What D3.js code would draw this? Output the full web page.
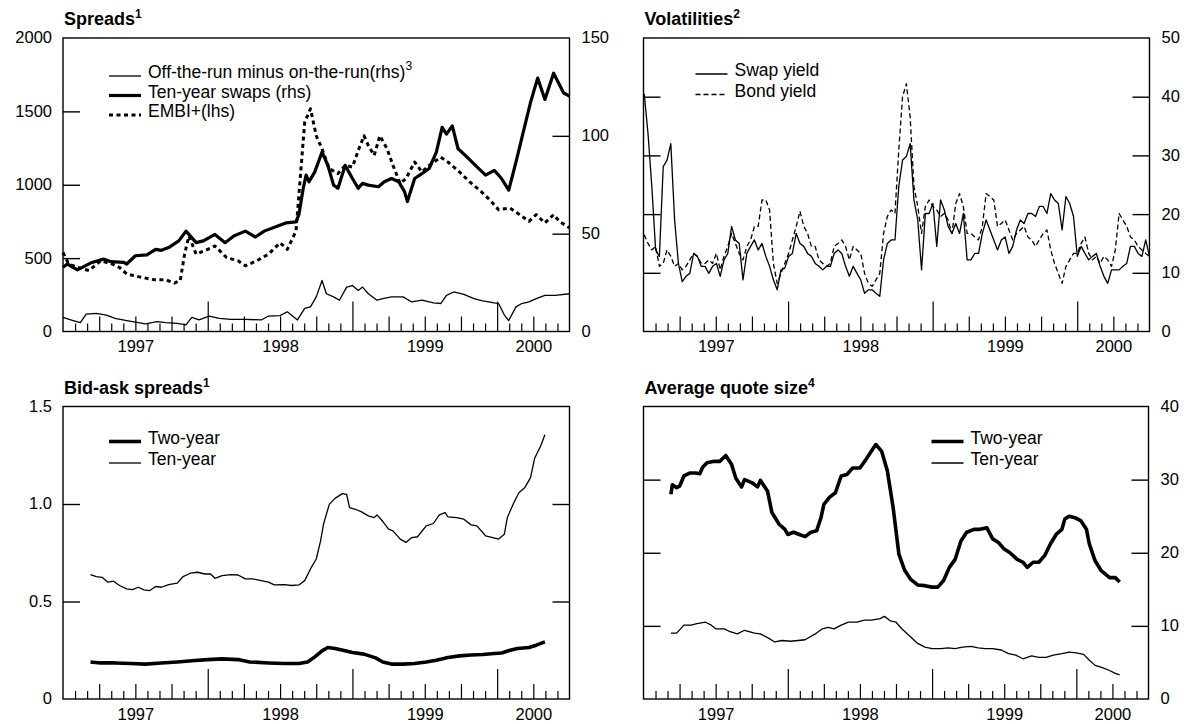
<!DOCTYPE html>
<html>
<head>
<meta charset="utf-8">
<script src="https://cdn.jsdelivr.net/npm/d3@7"></script>
<style>
  body { margin: 0; background: #fff; }
  svg { display: block; font-family: "Liberation Sans", Arial, sans-serif; }
</style>
</head>
<body>
<svg width="1187" height="724"></svg>
<script>
// ---- data (decimal years) ----
const yearLabels = ["1997", "1998", "1999", "2000"];

// Spreads panel
const offTheRun = [[1997.00,7.2],[1997.07,5.6],[1997.12,4.5],[1997.16,8.9],[1997.23,9.3],[1997.30,8.4],[1997.36,6.7],[1997.44,5.6],[1997.52,4.5],[1997.57,3.9],[1997.65,5.0],[1997.71,4.5],[1997.79,4.2],[1997.85,3.4],[1997.89,7.2],[1997.94,5.9],[1998.01,7.9],[1998.08,6.7],[1998.16,6.2],[1998.26,6.2],[1998.37,5.9],[1998.42,7.9],[1998.50,8.1],[1998.55,10.1],[1998.62,5.9],[1998.67,11.8],[1998.71,12.6],[1998.75,17.7],[1998.79,26.1],[1998.82,19.3],[1998.87,17.7],[1998.91,16.0],[1998.96,22.7],[1999.00,23.5],[1999.04,21.0],[1999.07,22.7],[1999.11,19.3],[1999.17,16.0],[1999.21,16.8],[1999.27,17.7],[1999.35,17.7],[1999.41,15.1],[1999.48,16.0],[1999.56,14.6],[1999.61,14.3],[1999.65,18.5],[1999.70,20.2],[1999.77,19.0],[1999.84,16.8],[1999.90,15.6],[1999.98,14.6],[2000.01,14.3],[2000.05,8.4],[2000.08,5.6],[2000.13,12.6],[2000.17,14.3],[2000.22,15.1],[2000.27,16.8],[2000.33,18.5],[2000.40,18.5],[2000.50,19.3]];
const tenYearSwaps = [[1997.00,32.8],[1997.03,34.5],[1997.10,31.5],[1997.20,35.3],[1997.28,37.0],[1997.33,35.7],[1997.42,35.3],[1997.44,34.5],[1997.50,38.7],[1997.58,39.2],[1997.64,42.0],[1997.68,41.5],[1997.73,42.9],[1997.80,46.3],[1997.85,51.3],[1997.92,45.4],[1997.97,46.3],[1998.05,49.6],[1998.12,45.4],[1998.18,48.8],[1998.26,51.3],[1998.33,48.3],[1998.39,51.3],[1998.48,53.8],[1998.54,55.5],[1998.61,56.0],[1998.63,59.7],[1998.66,73.2],[1998.68,79.9],[1998.70,76.5],[1998.74,81.6],[1998.79,91.7],[1998.83,84.9],[1998.87,74.8],[1998.90,73.2],[1998.95,84.9],[1999.00,78.2],[1999.04,73.2],[1999.07,75.7],[1999.11,74.8],[1999.18,74.0],[1999.22,76.5],[1999.27,78.2],[1999.32,76.5],[1999.36,71.5],[1999.38,66.4],[1999.43,78.2],[1999.48,80.7],[1999.53,83.3],[1999.58,91.7],[1999.62,104.3],[1999.65,100.9],[1999.69,105.1],[1999.73,93.4],[1999.78,90.0],[1999.85,84.9],[1999.92,79.9],[1999.98,82.4],[2000.03,78.2],[2000.08,72.3],[2000.13,86.6],[2000.18,101.8],[2000.23,116.9],[2000.28,129.5],[2000.33,118.6],[2000.39,132.0],[2000.46,121.9],[2000.50,120.3]];
const embi = [[1997.00,538],[1997.04,460],[1997.10,437],[1997.18,415],[1997.26,482],[1997.34,460],[1997.39,437],[1997.44,392],[1997.52,374],[1997.63,352],[1997.71,352],[1997.77,330],[1997.81,347],[1997.84,527],[1997.87,650],[1997.92,527],[1998.00,560],[1998.05,583],[1998.13,504],[1998.21,482],[1998.26,448],[1998.34,482],[1998.42,527],[1998.50,605],[1998.55,560],[1998.61,684],[1998.63,930],[1998.67,1424],[1998.71,1518],[1998.75,1334],[1998.79,1244],[1998.84,1110],[1998.90,1076],[1998.95,1132],[1999.00,1121],[1999.04,1233],[1999.08,1334],[1999.11,1267],[1999.15,1200],[1999.19,1334],[1999.24,1244],[1999.28,1132],[1999.33,1009],[1999.37,1042],[1999.43,1155],[1999.48,1087],[1999.53,1132],[1999.61,1188],[1999.66,1155],[1999.74,1087],[1999.81,1020],[1999.89,953],[1999.96,886],[2000.01,830],[2000.09,841],[2000.14,807],[2000.22,751],[2000.27,796],[2000.33,740],[2000.39,796],[2000.43,751],[2000.50,706]];

// Volatilities panel (evenly spaced observations, 1997.005 .. 2000.5)
const swapYieldVol = [40.5,33.7,24.7,13.9,12.8,28.1,29.2,32.0,19.0,11.6,8.5,9.4,9.9,13.3,12.8,11.1,11.1,9.9,11.1,11.6,9.4,12.2,13.3,17.9,15.6,15.0,8.8,13.3,14.5,15.6,13.9,15.0,12.8,11.1,8.8,7.1,10.5,10.8,12.8,13.3,16.7,15.0,14.5,13.3,12.8,11.6,11.1,10.5,11.1,11.1,13.3,13.9,13.3,11.1,9.4,11.1,9.9,8.8,6.5,7.1,7.1,6.5,6.0,12.2,15.0,15.6,15.6,24.7,29.2,29.8,32.0,22.4,19.0,10.5,20.1,20.1,21.8,14.5,22.4,20.7,17.9,16.7,18.4,16.7,20.1,12.2,12.2,13.3,13.3,16.7,19.0,17.3,15.6,13.9,15.6,16.1,13.3,14.5,17.3,19.0,18.4,20.1,20.1,19.6,21.3,21.3,20.1,23.5,22.4,21.8,17.3,23.0,21.8,19.6,12.8,14.5,13.3,12.2,12.8,13.3,11.1,9.4,8.2,10.5,10.5,10.5,11.1,11.6,14.5,14.5,13.3,12.8,15.6,12.8];
const bondYieldVol = [16.5,15.0,13.9,14.5,11.1,11.6,13.9,12.8,11.1,11.6,10.5,11.1,12.2,13.3,12.8,11.6,11.6,12.2,11.6,13.3,10.5,12.8,14.5,16.7,15.0,13.3,12.2,14.5,15.6,17.9,17.9,22.4,22.4,20.7,11.6,8.2,9.9,11.6,13.3,15.6,17.9,20.5,17.9,16.7,14.5,14.5,12.2,11.6,11.1,11.6,14.5,15.0,15.6,14.5,12.2,14.5,13.9,13.3,9.9,8.2,7.7,8.8,9.9,16.7,19.6,20.7,20.1,30.9,40.0,42.2,36.6,24.7,21.3,16.7,21.3,22.4,21.3,20.7,19.6,20.1,19.0,16.7,21.8,23.5,21.3,16.7,16.7,16.1,15.6,17.9,23.5,23.0,22.4,17.9,18.4,19.0,17.3,15.6,16.7,17.3,17.9,16.1,15.6,14.5,15.6,16.7,17.3,13.9,11.6,9.9,8.2,11.1,12.2,13.3,13.3,15.0,16.1,13.3,12.2,12.8,11.6,12.8,12.2,11.1,13.9,20.1,19.0,17.9,16.1,15.6,14.5,13.9,13.3,12.8];
const volStart = 1997.005, volEnd = 2000.5;

// Bid-ask spreads panel
const bidAskTwo = [[1997.19,0.190],[1997.26,0.185],[1997.36,0.185],[1997.47,0.182],[1997.57,0.179],[1997.68,0.185],[1997.79,0.190],[1997.89,0.196],[1998.00,0.202],[1998.10,0.206],[1998.21,0.202],[1998.29,0.190],[1998.42,0.185],[1998.53,0.182],[1998.63,0.182],[1998.69,0.190],[1998.74,0.216],[1998.79,0.247],[1998.83,0.264],[1998.88,0.259],[1998.95,0.247],[1999.00,0.238],[1999.08,0.230],[1999.16,0.211],[1999.21,0.190],[1999.27,0.179],[1999.35,0.179],[1999.43,0.182],[1999.51,0.190],[1999.58,0.199],[1999.66,0.213],[1999.74,0.221],[1999.82,0.226],[1999.90,0.228],[1999.98,0.233],[2000.03,0.236],[2000.09,0.250],[2000.14,0.259],[2000.22,0.264],[2000.27,0.276],[2000.33,0.293]];
const bidAskTen = [[1997.19,0.638],[1997.23,0.628],[1997.27,0.624],[1997.31,0.599],[1997.35,0.604],[1997.39,0.582],[1997.44,0.565],[1997.48,0.561],[1997.52,0.573],[1997.56,0.560],[1997.60,0.556],[1997.64,0.577],[1997.68,0.573],[1997.73,0.587],[1997.79,0.594],[1997.83,0.628],[1997.88,0.645],[1997.93,0.650],[1997.98,0.641],[1998.02,0.641],[1998.05,0.619],[1998.10,0.633],[1998.16,0.638],[1998.21,0.636],[1998.26,0.616],[1998.31,0.616],[1998.37,0.607],[1998.42,0.599],[1998.46,0.585],[1998.53,0.587],[1998.58,0.582],[1998.63,0.585],[1998.67,0.607],[1998.71,0.667],[1998.75,0.718],[1998.78,0.811],[1998.80,0.896],[1998.84,0.998],[1998.88,1.029],[1998.93,1.053],[1998.96,1.049],[1998.98,0.981],[1999.02,0.973],[1999.06,0.961],[1999.11,0.939],[1999.15,0.930],[1999.17,0.944],[1999.21,0.910],[1999.25,0.871],[1999.28,0.862],[1999.33,0.820],[1999.37,0.803],[1999.41,0.828],[1999.45,0.832],[1999.51,0.888],[1999.56,0.900],[1999.60,0.944],[1999.64,0.956],[1999.66,0.934],[1999.72,0.930],[1999.77,0.922],[1999.82,0.893],[1999.86,0.888],[1999.92,0.837],[1999.97,0.828],[2000.01,0.820],[2000.05,0.845],[2000.07,0.930],[2000.11,0.998],[2000.15,1.058],[2000.19,1.083],[2000.23,1.134],[2000.26,1.236],[2000.30,1.296],[2000.33,1.355]];

// Average quote size panel
const quoteTwo = [[1997.19,28.0],[1997.20,29.3],[1997.23,28.9],[1997.25,29.1],[1997.28,30.5],[1997.32,30.9],[1997.36,30.9],[1997.39,30.8],[1997.41,31.7],[1997.44,32.3],[1997.49,32.5],[1997.53,32.5],[1997.57,33.3],[1997.61,32.1],[1997.64,30.2],[1997.68,29.0],[1997.70,30.0],[1997.75,29.6],[1997.79,29.0],[1997.81,29.9],[1997.86,28.4],[1997.89,25.5],[1997.94,23.9],[1997.98,23.2],[1998.00,22.5],[1998.04,22.8],[1998.08,22.5],[1998.12,22.2],[1998.16,22.8],[1998.20,23.0],[1998.23,24.8],[1998.25,26.6],[1998.29,27.6],[1998.33,28.2],[1998.37,30.5],[1998.41,30.7],[1998.45,31.6],[1998.50,31.6],[1998.54,32.7],[1998.58,33.9],[1998.61,34.8],[1998.65,33.9],[1998.69,31.2],[1998.73,26.2],[1998.77,19.8],[1998.81,17.6],[1998.85,16.4],[1998.90,15.6],[1998.95,15.5],[1999.00,15.3],[1999.04,15.3],[1999.08,16.2],[1999.12,18.0],[1999.16,19.1],[1999.20,21.6],[1999.24,22.8],[1999.29,23.2],[1999.33,23.2],[1999.38,23.4],[1999.42,21.9],[1999.46,21.4],[1999.50,20.5],[1999.54,20.0],[1999.59,19.1],[1999.63,18.7],[1999.66,18.0],[1999.70,18.7],[1999.74,18.7],[1999.78,19.6],[1999.82,21.2],[1999.86,22.5],[1999.90,23.2],[1999.92,24.6],[1999.95,25.0],[1999.99,24.8],[2000.03,24.4],[2000.07,23.2],[2000.09,21.2],[2000.13,18.9],[2000.17,17.6],[2000.23,16.6],[2000.27,16.6],[2000.30,16.0]];
const quoteTen = [[1997.19,9.0],[1997.23,9.0],[1997.28,10.1],[1997.33,10.1],[1997.37,10.3],[1997.43,10.5],[1997.47,10.1],[1997.50,9.6],[1997.56,9.6],[1997.60,9.2],[1997.65,8.9],[1997.70,9.4],[1997.77,9.0],[1997.81,8.9],[1997.86,8.4],[1997.91,7.8],[1997.96,8.0],[1998.02,7.9],[1998.07,8.0],[1998.12,8.1],[1998.19,8.9],[1998.24,9.6],[1998.28,9.8],[1998.32,9.6],[1998.37,10.1],[1998.42,10.5],[1998.48,10.5],[1998.53,10.8],[1998.58,10.8],[1998.64,11.0],[1998.67,11.3],[1998.71,10.7],[1998.75,10.5],[1998.79,9.6],[1998.85,8.5],[1998.90,7.6],[1998.95,7.1],[1999.00,6.9],[1999.06,6.9],[1999.11,7.0],[1999.16,6.9],[1999.21,7.1],[1999.27,7.2],[1999.32,7.0],[1999.37,6.9],[1999.42,6.9],[1999.48,6.7],[1999.53,6.2],[1999.58,6.0],[1999.63,5.5],[1999.69,5.9],[1999.74,5.7],[1999.79,5.7],[1999.84,6.0],[1999.90,6.2],[1999.95,6.4],[2000.00,6.3],[2000.05,6.1],[2000.09,5.3],[2000.13,4.6],[2000.18,4.3],[2000.23,3.9],[2000.27,3.5],[2000.30,3.3]];

// ---- drawing ----
const svg = d3.select('svg');
const FONT = '"Liberation Sans", Arial, sans-serif';
const AXIS_FS = 16.5, LEG_FS = 17.5, TITLE_FS = 18;

function volSeries(vals) {
  const step = (volEnd - volStart) / (vals.length - 1);
  return vals.map((v, i) => [volStart + i * step, v]);
}

function panel(p) {
  const g = svg.append('g').attr('transform', `translate(${p.left},${p.top})`);
  const w = p.width, h = p.height;
  const x = d3.scaleLinear().domain([1997, 2000.5]).range([0, w]);

  // month / quarter / year ticks pointing up from the bottom
  const months = d3.range(1, 42).map(m => 1997 + m / 12);
  const sets = [
    [months.filter((d, i) => (i + 1) % 3 !== 0), 8],
    [months.filter((d, i) => (i + 1) % 3 === 0 && (i + 1) % 12 !== 0), 15],
    [months.filter((d, i) => (i + 1) % 12 === 0), 30]
  ];
  sets.forEach(([vals, len]) => {
    g.append('g').attr('transform', `translate(0,${h})`)
      .call(d3.axisBottom(x).tickValues(vals).tickSize(-len).tickFormat(''))
      .call(a => a.select('.domain').remove())
      .selectAll('line').attr('stroke', '#000').attr('stroke-width', 1.2);
  });
  // year labels centred on the visible part of each year
  g.append('g').attr('transform', `translate(0,${h})`)
    .call(d3.axisBottom(x).tickValues([1997.5, 1998.5, 1999.5, 2000.25])
      .tickSize(0).tickPadding(9).tickFormat((d, i) => yearLabels[i]))
    .call(a => a.select('.domain').remove())
    .attr('font-size', AXIS_FS).attr('font-family', FONT)
    .selectAll('text').attr('fill', '#000');

  // y axes
  const axes = {};
  p.yAxes.forEach(ax => {
    const y = d3.scaleLinear().domain(ax.domain).range([h, 0]);
    axes[ax.key] = y;
    const gen = ax.side === 'left' ? d3.axisLeft(y) : d3.axisRight(y);
    gen.tickValues(ax.ticks).tickSize(-17).tickPadding(ax.side === 'left' ? 11 : 12)
      .tickFormat(ax.labels ? ax.format : () => '');
    const ag = g.append('g')
      .attr('transform', ax.side === 'left' ? 'translate(0,0)' : `translate(${w},0)`)
      .call(gen)
      .attr('font-size', AXIS_FS).attr('font-family', FONT);
    ag.select('.domain').remove();
    ag.selectAll('line').attr('stroke', '#000').attr('stroke-width', 1.4)
      .attr('display', d => (d === ax.domain[0] || d === ax.domain[1]) ? 'none' : null);
    ag.selectAll('text').attr('fill', '#000').attr('dy', '0.3em');
  });

  // frame
  g.append('rect').attr('width', w).attr('height', h)
    .attr('fill', 'none').attr('stroke', '#000').attr('stroke-width', 1.4);

  // series
  p.series.forEach(s => {
    const y = axes[s.axis];
    const line = d3.line().x(d => x(d[0])).y(d => y(d[1]));
    g.append('path').datum(s.data)
      .attr('d', line)
      .attr('fill', 'none').attr('stroke', '#000')
      .attr('stroke-width', s.width)
      .attr('stroke-linejoin', 'round')
      .attr('stroke-dasharray', s.dash || null);
  });

  // title
  const t = svg.append('text').attr('x', p.left + 1).attr('y', p.top - 13)
    .attr('font-size', TITLE_FS).attr('font-weight', 'bold').attr('font-family', FONT)
    .text(p.title);
  t.append('tspan').attr('font-size', 12).attr('dy', -7).text(p.titleSup);

  // legend
  p.legend.items.forEach((it, i) => {
    const ly = p.legend.y + i * p.legend.gap;
    const s = p.series[it.s];
    g.append('line')
      .attr('x1', p.legend.x).attr('x2', p.legend.x + 32)
      .attr('y1', ly + 4).attr('y2', ly + 4)
      .attr('stroke', '#000').attr('stroke-width', s.width)
      .attr('stroke-dasharray', s.dash || null);
    const tx = g.append('text').attr('x', p.legend.x + 39).attr('y', ly)
      .attr('dy', '0.35em').attr('font-size', LEG_FS).attr('font-family', FONT)
      .text(it.label);
    if (it.sup) tx.append('tspan').attr('font-size', 12).attr('dy', -8).text(it.sup);
  });
}

panel({
  left: 63, top: 38, width: 506.5, height: 293.5,
  title: 'Spreads', titleSup: '1',
  yAxes: [
    {key: 'l', side: 'left', domain: [0, 2000], ticks: [0, 500, 1000, 1500, 2000], labels: true, format: d3.format('d')},
    {key: 'r', side: 'right', domain: [0, 150], ticks: [0, 50, 100, 150], labels: true, format: d3.format('d')}
  ],
  series: [
    {data: offTheRun, axis: 'r', width: 1.3},
    {data: tenYearSwaps, axis: 'r', width: 3.2},
    {data: embi, axis: 'l', width: 3, dash: '4,3.5'}
  ],
  legend: {x: 46, y: 34, gap: 19.5, items: [
    {s: 0, label: 'Off-the-run minus on-the-run(rhs)', sup: '3'},
    {s: 1, label: 'Ten-year swaps (rhs)'},
    {s: 2, label: 'EMBI+(lhs)'}
  ]}
});

panel({
  left: 643.5, top: 38, width: 506, height: 293.5,
  title: 'Volatilities', titleSup: '2',
  yAxes: [
    {key: 'l', side: 'left', domain: [0, 50], ticks: [0, 10, 20, 30, 40, 50], labels: false},
    {key: 'r', side: 'right', domain: [0, 50], ticks: [0, 10, 20, 30, 40, 50], labels: true, format: d3.format('d')}
  ],
  series: [
    {data: volSeries(swapYieldVol), axis: 'r', width: 1.3},
    {data: volSeries(bondYieldVol), axis: 'r', width: 1.3, dash: '5,3'}
  ],
  legend: {x: 52, y: 32, gap: 20.5, items: [
    {s: 0, label: 'Swap yield'},
    {s: 1, label: 'Bond yield'}
  ]}
});

panel({
  left: 63, top: 406.5, width: 506.5, height: 292.5,
  title: 'Bid-ask spreads', titleSup: '1',
  yAxes: [
    {key: 'l', side: 'left', domain: [0, 1.5], ticks: [0, 0.5, 1.0, 1.5], labels: true, format: d => d === 0 ? '0' : d3.format('.1f')(d)},
    {key: 'r', side: 'right', domain: [0, 1.5], ticks: [0, 0.5, 1.0, 1.5], labels: false}
  ],
  series: [
    {data: bidAskTwo, axis: 'l', width: 3.6},
    {data: bidAskTen, axis: 'l', width: 1.3}
  ],
  legend: {x: 46, y: 31, gap: 21.5, items: [
    {s: 0, label: 'Two-year'},
    {s: 1, label: 'Ten-year'}
  ]}
});

panel({
  left: 643.5, top: 406.5, width: 505, height: 292.5,
  title: 'Average quote size', titleSup: '4',
  yAxes: [
    {key: 'l', side: 'left', domain: [0, 40], ticks: [0, 10, 20, 30, 40], labels: false},
    {key: 'r', side: 'right', domain: [0, 40], ticks: [0, 10, 20, 30, 40], labels: true, format: d3.format('d')}
  ],
  series: [
    {data: quoteTwo, axis: 'r', width: 3.6},
    {data: quoteTen, axis: 'r', width: 1.3}
  ],
  legend: {x: 288, y: 31, gap: 21.5, items: [
    {s: 0, label: 'Two-year'},
    {s: 1, label: 'Ten-year'}
  ]}
});
</script>
</body>
</html>
